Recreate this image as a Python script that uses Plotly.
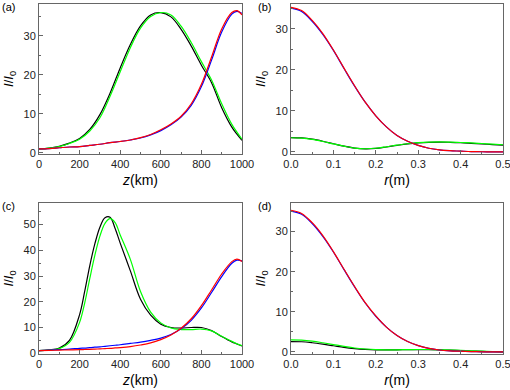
import plotly.graph_objects as go
from plotly.subplots import make_subplots

# ---- data ----
# panel (a): intensity along z
z_a = [0, 50, 100, 150, 200, 250, 300, 350, 400, 450, 500, 550, 600, 650, 700,
       750, 800, 850, 900, 950, 975, 1000]
black_a = [1.0, 1.2, 1.7, 2.5, 3.7, 6.0, 9.8, 15.3, 21.8, 27.8, 32.6, 35.4, 36.0,
           34.9, 31.7, 27.4, 22.5, 18.0, 11.6, 6.6, 4.8, 3.2]
green_a = [1.0, 1.2, 1.6, 2.4, 3.5, 5.6, 9.0, 14.5, 20.8, 27.0, 32.0, 35.0, 36.0,
           35.4, 32.5, 28.3, 23.4, 18.7, 12.6, 7.3, 5.3, 3.5]
blue_a = [1.0, 1.1, 1.3, 1.5, 1.6, 1.9, 2.2, 2.6, 2.9, 3.3, 3.8, 4.6, 5.7, 7.2,
          9.2, 12.2, 17.0, 23.8, 31.0, 35.6, 36.3, 35.8]
red_a = [1.0, 1.1, 1.3, 1.5, 1.6, 1.9, 2.2, 2.6, 2.9, 3.3, 3.9, 4.7, 5.9, 7.4,
         9.4, 12.6, 17.6, 24.6, 31.8, 36.0, 36.5, 35.4]

# panel (c): intensity along z
z_c = [0, 50, 100, 150, 200, 225, 250, 275, 300, 325, 350, 375, 400, 450, 500,
       550, 600, 650, 700, 750, 800, 850, 900, 950, 975, 1000]
black_c = [1.0, 1.3, 2.0, 5.0, 15.0, 24.0, 34.0, 42.5, 49.0, 52.7, 52.9, 48.5,
           42.8, 32.0, 21.0, 14.8, 11.3, 10.0, 9.8, 10.0, 10.0, 8.8, 6.5, 4.4,
           3.6, 2.8]
green_c = [1.0, 1.2, 1.8, 4.2, 12.0, 19.5, 29.0, 38.0, 45.5, 50.5, 52.3, 50.8,
           46.0, 36.5, 24.0, 16.0, 11.8, 9.8, 9.2, 9.2, 9.4, 8.7, 6.6, 4.6,
           3.7, 2.9]
blue_c = [1.0, 1.2, 1.4, 1.6, 1.9, 2.0, 2.2, 2.35, 2.5, 2.7, 2.9, 3.1, 3.3, 3.8,
          4.3, 5.0, 5.9, 7.3, 9.5, 12.8, 17.6, 23.6, 29.8, 35.0, 36.2, 35.9]
red_c = [1.0, 1.1, 1.2, 1.3, 1.4, 1.45, 1.5, 1.6, 1.7, 1.8, 1.9, 2.05, 2.2, 2.6,
         3.2, 4.0, 5.3, 7.1, 9.7, 13.4, 18.5, 24.6, 30.8, 35.6, 36.6, 35.7]

# panels (b) and (d): intensity along r
r = [0, 0.025, 0.05, 0.075, 0.1, 0.125, 0.15, 0.175, 0.2, 0.225, 0.25, 0.275,
     0.3, 0.325, 0.35, 0.375, 0.4, 0.425, 0.45, 0.475, 0.5]
black_b = [3.5, 3.4, 3.1, 2.6, 2.0, 1.4, 0.95, 0.75, 0.85, 1.2, 1.6, 1.95, 2.2,
           2.35, 2.4, 2.35, 2.25, 2.1, 1.95, 1.8, 1.65]
green_b = [3.45, 3.35, 3.05, 2.55, 1.95, 1.4, 0.95, 0.78, 0.9, 1.25, 1.65, 2.0,
           2.25, 2.4, 2.45, 2.4, 2.3, 2.2, 2.05, 1.9, 1.75]
blue_b = [35.0, 34.2, 31.8, 28.6, 24.7, 20.3, 16.0, 12.1, 8.8, 6.1, 4.0, 2.6,
          1.6, 0.9, 0.5, 0.3, 0.2, 0.1, 0.05, 0.03, 0.02]
red_b = [35.2, 34.4, 32.0, 28.8, 24.8, 20.4, 16.1, 12.1, 8.8, 6.1, 4.0, 2.6,
         1.6, 0.9, 0.5, 0.3, 0.2, 0.1, 0.05, 0.03, 0.02]

black_d = [2.6, 2.55, 2.3, 1.95, 1.55, 1.15, 0.85, 0.65, 0.55, 0.55, 0.55, 0.6,
           0.6, 0.6, 0.55, 0.45, 0.35, 0.25, 0.15, 0.08, 0.05]
green_d = [3.0, 2.95, 2.7, 2.3, 1.85, 1.4, 1.0, 0.75, 0.6, 0.55, 0.55, 0.6, 0.62,
           0.62, 0.58, 0.5, 0.4, 0.3, 0.2, 0.12, 0.08]
blue_d = [35.1, 34.3, 32.0, 28.8, 24.9, 20.5, 16.2, 12.2, 8.9, 6.2, 4.1, 2.6,
          1.6, 0.9, 0.5, 0.3, 0.2, 0.1, 0.05, 0.03, 0.02]
red_d = [35.3, 34.5, 32.2, 29.0, 25.0, 20.6, 16.3, 12.3, 9.0, 6.2, 4.1, 2.6,
         1.6, 0.9, 0.5, 0.3, 0.2, 0.1, 0.05, 0.03, 0.02]

z_ticks = [0, 200, 400, 600, 800, 1000]
r_ticks = [0.0, 0.1, 0.2, 0.3, 0.4, 0.5]

COLORS = ["#000000", "#00ff00", "#0000ff", "#ff0000"]
FONT = "Liberation Sans, Arial, sans-serif"
FRAME = "#666666"

fig = make_subplots(rows=2, cols=2)

panels = [
    (1, 1, z_a, [black_a, green_a, blue_a, red_a]),
    (1, 2, r, [black_b, green_b, blue_b, red_b]),
    (2, 1, z_c, [black_c, green_c, blue_c, red_c]),
    (2, 2, r, [black_d, green_d, blue_d, red_d]),
]
for row, col, xs, series in panels:
    for ys, color in zip(series, COLORS):
        fig.add_trace(go.Scatter(x=xs, y=ys, mode="lines",
                                 line=dict(color=color, width=1.2, shape="spline"),
                                 showlegend=False), row=row, col=col)

axis_common = dict(showline=True, linecolor=FRAME, linewidth=1, mirror=True,
                   ticks="inside", ticklen=4, tickcolor=FRAME,
                   showgrid=False, zeroline=False, automargin=False,
                   ticklabeloverflow="allow",
                   tickfont=dict(family=FONT, size=11, color="#222222"))
fig.update_xaxes(**axis_common)
fig.update_yaxes(**axis_common)

# domains in paper coordinates
xd_left = [39 / 510, 242 / 510]
xd_right = [291 / 510, 503 / 510]
yd_top = [1 - 154 / 390, 1 - 4 / 390]
yd_bot = [1 - 354 / 390, 1 - 203 / 390]

ytitle = "<i>I</i>/<i>I</i><sub>0</sub>"
ztitle = "<i>z</i>(km)"
rtitle = "<i>r</i>(m)"


def minor(step):
    return dict(dtick=step, ticklen=2, ticks="inside", tickcolor=FRAME)


def xt(text):
    return dict(text=text, standoff=5, font=dict(family=FONT, size=14))


def yt():
    return dict(text=ytitle, standoff=6, font=dict(family=FONT, size=13))


zaxis = dict(range=[0, 1000], tickmode="array", tickvals=z_ticks,
             minor=minor(100), title=xt(ztitle))
raxis = dict(range=[0, 0.5], tickmode="array", tickvals=r_ticks,
             ticktext=[f"{v:.1f}" for v in r_ticks], minor=minor(0.05),
             title=xt(rtitle))

fig.update_layout(
    xaxis=dict(domain=xd_left, **zaxis),
    yaxis=dict(domain=yd_top, range=[-0.3, 38.2], dtick=10, minor=minor(5),
               title=yt()),
    xaxis2=dict(domain=xd_right, **raxis),
    yaxis2=dict(domain=yd_top, range=[-0.5, 36], dtick=10, minor=minor(5),
                title=yt()),
    xaxis3=dict(domain=xd_left, **zaxis),
    yaxis3=dict(domain=yd_bot, range=[-0.3, 58.4], dtick=10, minor=minor(5),
                title=yt()),
    xaxis4=dict(domain=xd_right, **raxis),
    yaxis4=dict(domain=yd_bot, range=[-0.5, 37.1], dtick=10, minor=minor(5),
                title=yt()),
)

# panel labels
for label, x, y in [("(a)", 0, 7), ("(b)", 256, 7), ("(c)", 0, 206), ("(d)", 256, 206)]:
    fig.add_annotation(text=label, xref="paper", yref="paper", x=x / 510,
                       y=1 - y / 390, xanchor="left", yanchor="middle",
                       showarrow=False, font=dict(family=FONT, size=11, color="#000000"))

fig.update_layout(width=510, height=390, margin=dict(l=0, r=0, t=0, b=0),
                  paper_bgcolor="white", plot_bgcolor="white",
                  font=dict(family=FONT, color="#000000"))

# drop the browser's default body margin so the 510x390 figure fills the window
fig.write_html("out.html", config={"displayModeBar": False},
               post_script="document.body.style.margin = '0';")
